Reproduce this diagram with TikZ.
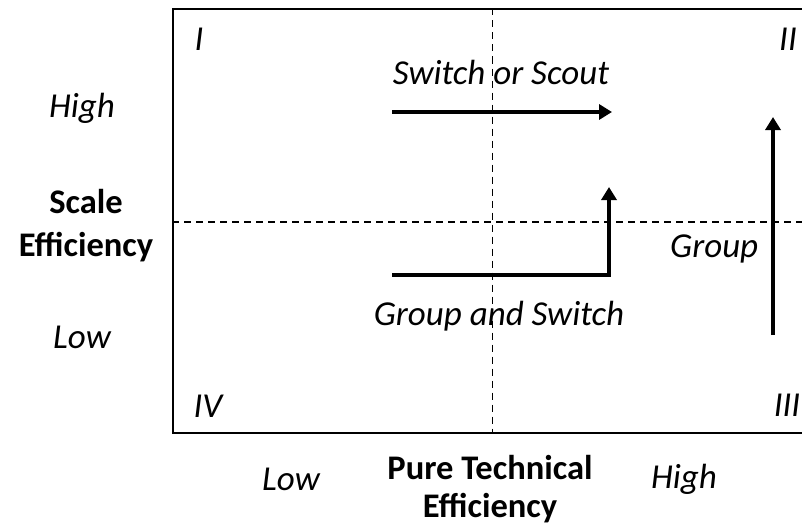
\documentclass[tikz,border=0pt]{standalone}
\usepackage{fontspec}
\setmainfont{Carlito}
\usetikzlibrary{arrows.meta, positioning}

\begin{document}
\begin{tikzpicture}[
    x=1pt, y=-1pt,
    >={Triangle[length=13pt, width=15pt]},
    lbl/.style={inner sep=0pt, anchor=base, font=\fontsize{35}{41}\selectfont\itshape},
    axislbl/.style={inner sep=0pt, align=center, font=\fontsize{34.5}{43}\selectfont\bfseries},
    frame/.style={rectangle, draw, line width=2pt, minimum width=642pt, minimum height=423.5pt, inner sep=0pt},
    grid/.style={draw, dash pattern=on 7pt off 5pt, line width=1.8pt},
    move/.style={draw, ->, line width=4.5pt}
]
\useasboundingbox (0,0) rectangle (802,527);

% Frame and quadrants
\node[frame] (frame) at (494,221.25) {};
\coordinate (mid) at (492.5,222);
\draw[grid] (mid |- frame.north) -- (mid |- frame.south);
\draw[grid] (mid -| frame.west) -- (mid -| frame.east);

\node[lbl] (q1) at (199,50) {I};
\node[lbl] (q2) at (788,50) {II};
\node[lbl] (q3) at (787,416) {III};
\node[lbl] (q4) at (208,417) {IV};

% Axis labels
\node[lbl] (yhigh) at (82,117) {High};
\node[axislbl] (yaxis) at (86,226) {Scale\\Efficiency};
\node[lbl] (ylow) at (82,348) {Low};
\node[lbl] (xlow) at (291,490) {Low};
\node[axislbl, font=\fontsize{34.5}{38}\selectfont\bfseries] (xaxis) at (490,489) {Pure Technical\\Efficiency};
\node[lbl] (xhigh) at (684,488) {High};

% Moves
\node[lbl] (sos) at (501,84) {Switch or Scout};
\node[lbl] (gas) at (499,325) {Group and Switch};
\node[lbl, anchor=base west] (grp) at (670,257) {Group};

\coordinate (sos-a) at (392,112);
\coordinate (sos-b) at (612,112);
\coordinate (gas-a) at (392,275);
\coordinate (gas-b) at (609,275);
\coordinate (gas-c) at (609,187);
\coordinate (grp-a) at (773,335);
\coordinate (grp-b) at (773,117);

\draw[move] (sos-a) -- (sos-b);
\draw[move] (gas-a) -- (gas-b) -- (gas-c);
\draw[move] (grp-a) -- (grp-b);

\end{tikzpicture}
\end{document}
